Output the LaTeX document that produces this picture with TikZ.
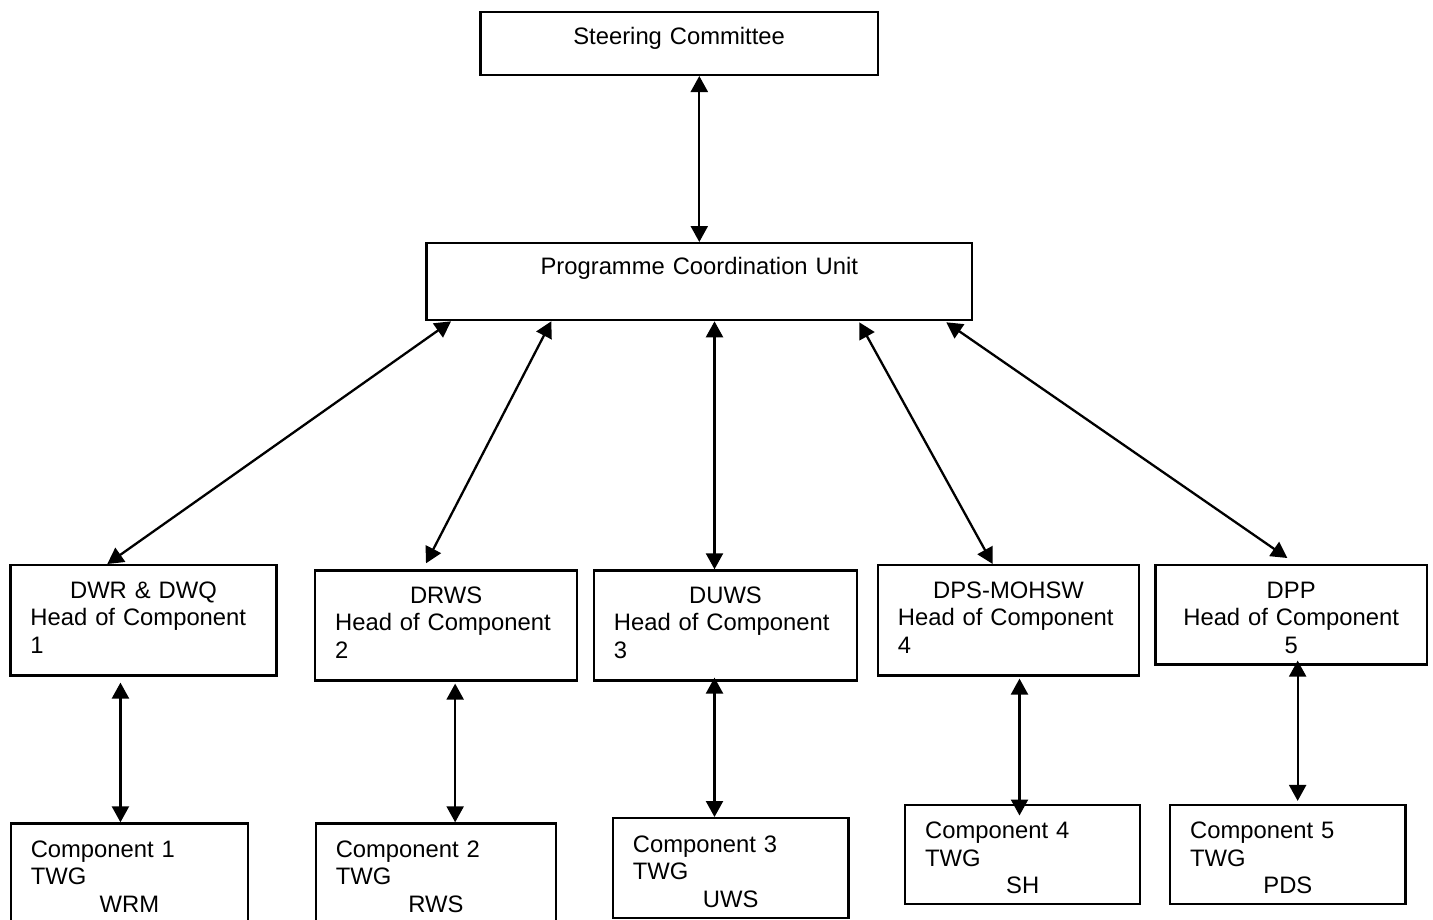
\documentclass[tikz,border=0pt]{standalone}
\usepackage{fontspec}
\setmainfont{Liberation Sans}
\usetikzlibrary{arrows.meta,calc}
\newcommand\midline[1]{\makebox[\linewidth]{#1}}

\begin{document}
\begin{tikzpicture}[x=1pt,y=-1pt,line width=2.3pt,>={Triangle[length=16pt,width=17pt]},
    box/.style={draw,anchor=north west,inner xsep=20pt,inner ysep=0pt,align=left,font=\fontsize{23.8pt}{27.5pt}\selectfont}]
        \useasboundingbox (0,0) rectangle (1433,919);
        \clip (0,0) rectangle (1433,919);
        \node[box,align=center,text width=357.6pt,text height=32.3pt,text depth=30.7pt] (steer) at (479.2,10.7) {Steering Committee};
        \node[box,align=center,text width=505.7pt,text height=31pt,text depth=46pt] (pcu) at (425.3,242) {Programme Coordination Unit};
        \node[box,text width=226pt,text height=33pt,text depth=77.3pt] (dwr) at (9.3,564) {\midline{DWR \& DWQ}\\Head of Component\\1};
        \node[box,text width=222pt,text height=33pt,text depth=77pt] (drws) at (314,569.3) {\midline{DRWS}\\Head of Component\\2};
        \node[box,text width=223.3pt,text height=33pt,text depth=77pt] (duws) at (592.7,569.3) {\midline{DUWS}\\Head of Component\\3};
        \node[box,text width=221.3pt,text height=33pt,text depth=77.3pt] (dps) at (876.7,564) {\midline{DPS-MOHSW}\\Head of Component\\4};
        \node[box,align=center,text width=231.4pt,text height=33pt,text depth=66.3pt] (dpp) at (1154.3,564) {DPP\\Head of Component\\5};
        \node[box,text width=197.2pt,text height=34pt,text depth=66pt] (wrm) at (9.6,822.3) {Component 1\\TWG\\\midline{WRM}};
        \node[box,text width=200.4pt,text height=34pt,text depth=66pt] (rws) at (314.6,822.3) {Component 2\\TWG\\\midline{RWS}};
        \node[box,text width=195.6pt,text height=34pt,text depth=65.5pt] (uws) at (611.7,817) {Component 3\\TWG\\\midline{UWS}};
        \node[box,text width=195pt,text height=34pt,text depth=65.5pt] (sh) at (904,803.5) {Component 4\\TWG\\\midline{SH}};
        \node[box,text width=195.4pt,text height=34pt,text depth=65.5pt] (pds) at (1169,803.5) {Component 5\\TWG\\\midline{PDS}};
        \draw[<->] (steer.south -| pcu.north) -- (pcu.north);
        \draw[<->] ($(pcu.south west)+(25.7,0)$) -- ($(dwr.north west)+(98,0)$);
        \draw[<->] ($(pcu.south west)+(126,0)$) -- ($(drws.north west)+(112,-6)$);
        \draw[<->] ($(pcu.south -| duws.north)+(-11,0)$) -- ($(duws.north)+(-11,0)$);
        \draw[<->] ($(pcu.south east)+(-114,1)$) -- ($(dps.north west)+(116,0)$);
        \draw[<->] ($(pcu.south east)+(-27,1)$) -- ($(dpp.north west)+(133,-6)$);
        \draw[<->] ($(dwr.south)+(-23,6)$) -- ($(wrm.north -| dwr.south)+(-23,0)$);
        \draw[<->] ($(drws.south)+(9,2)$) -- ($(rws.north -| drws.south)+(9,0)$);
        \draw[<->] ($(duws.south)+(-11,-4)$) -- ($(uws.north -| duws.south)+(-11,0)$);
        \draw[<->] ($(dps.south)+(11,2)$) -- ($(sh.north -| dps.south)+(11,12)$);
        \draw[<->] ($(dpp.south)+(6.5,-5)$) -- ($(pds.north -| dpp.south)+(6.5,-2.6)$);
    \end{tikzpicture}
\end{document}
